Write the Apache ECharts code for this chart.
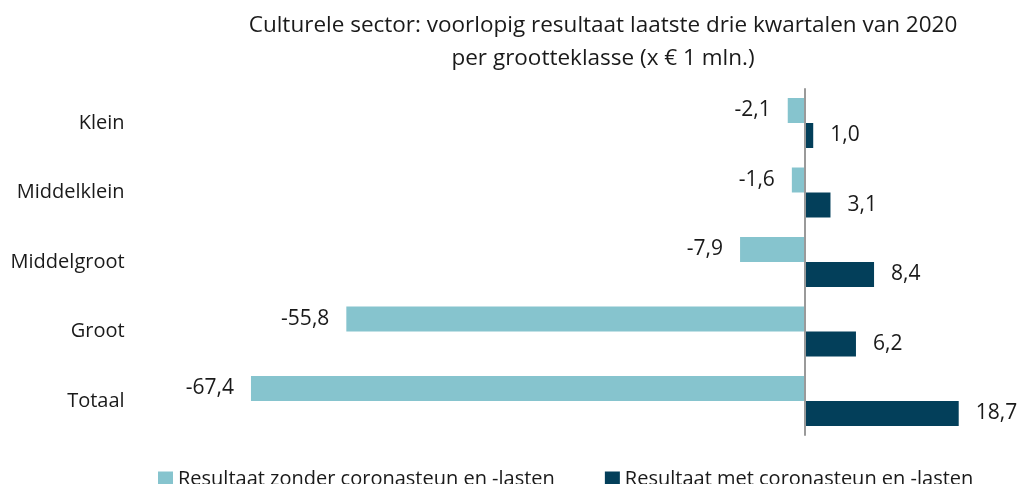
<!DOCTYPE html>
<html>
<head>
<meta charset="utf-8">
<script src="https://cdn.jsdelivr.net/npm/echarts@6/dist/echarts.min.js"></script>
<style>
  html, body { margin: 0; padding: 0; background: #fff; }
  #main { width: 1019px; height: 484px; }
</style>
</head>
<body>
<div id="main"></div>
<script>
var categories = ['Klein', 'Middelklein', 'Middelgroot', 'Groot', 'Totaal'];
var zonderSteun = [-2.1, -1.6, -7.9, -55.8, -67.4];
var metSteun = [1.0, 3.1, 8.4, 6.2, 18.7];
var seriesNames = ['Resultaat zonder coronasteun en -lasten', 'Resultaat met coronasteun en -lasten'];

var myChart = echarts.init(document.getElementById('main'));

var fontFamily = '"Open Sans", sans-serif';

function fmt(p) {
  return p.value.toFixed(1).replace('.', ',');
}

var option = {
  textStyle: { fontFamily: fontFamily },
  title: {
    text: 'Culturele sector: voorlopig resultaat laatste drie kwartalen van 2020\nper grootteklasse (x € 1 mln.)',
    left: 598,
    top: 4,
    textAlign: 'center',
    textStyle: {
      fontFamily: fontFamily,
      fontSize: 22.5,
      fontWeight: 'normal',
      color: '#1a1a1a',
      lineHeight: 33
    }
  },
  legend: {
    left: 153,
    top: 464,
    icon: 'rect',
    itemWidth: 15,
    itemHeight: 15,
    itemGap: 50,
    textStyle: { fontSize: 20, color: '#1a1a1a', fontFamily: fontFamily },
    data: seriesNames
  },
  grid: {
    left: 229.6,
    right: 49.6,
    top: 88.25,
    bottom: 48.25
  },
  xAxis: {
    type: 'value',
    min: -70,
    max: 20,
    show: false
  },
  yAxis: {
    type: 'category',
    data: categories,
    inverse: true,
    axisLine: { show: false },
    axisTick: { show: false },
    axisLabel: {
      margin: 105,
      fontSize: 20,
      color: '#1a1a1a',
      fontFamily: fontFamily
    }
  },
  series: [
    {
      name: seriesNames[0],
      type: 'bar',
      data: zonderSteun,
      barWidth: 25,
      barGap: '0%',
      itemStyle: { color: '#86C4CE' },
      label: {
        show: true,
        position: 'left',
        distance: 17,
        fontSize: 21,
        color: '#1a1a1a',
        formatter: fmt
      },
      markLine: {
        silent: true,
        symbol: 'none',
        label: { show: false },
        lineStyle: { color: '#9a9a9a', width: 2, type: 'solid' },
        data: [{ xAxis: 0 }]
      }
    },
    {
      name: seriesNames[1],
      type: 'bar',
      data: metSteun,
      barWidth: 25,
      barGap: '0%',
      itemStyle: { color: '#033F5A' },
      label: {
        show: true,
        position: 'right',
        distance: 17,
        fontSize: 21,
        color: '#1a1a1a',
        formatter: fmt
      }
    }
  ]
};

myChart.setOption(option);
</script>
</body>
</html>
